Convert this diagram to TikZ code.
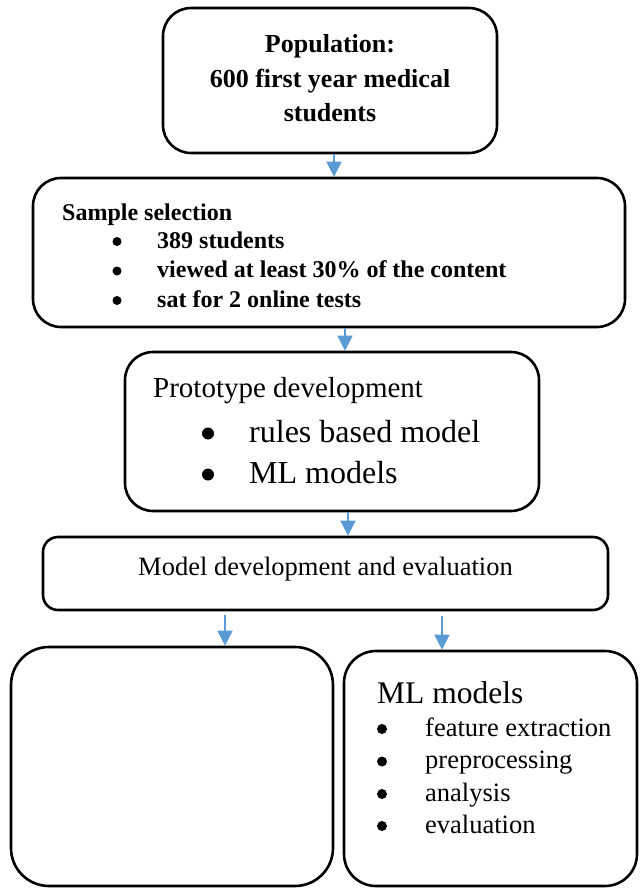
\documentclass[tikz,border=0pt]{standalone}
\usepackage{fontspec}
\setmainfont{Liberation Serif}
\usetikzlibrary{arrows.meta}
\definecolor{arrowblue}{HTML}{5B9BD5}

\begin{document}
\begin{tikzpicture}[x=1bp,y=-1bp,
  box/.style={draw, line width=2.6bp, inner sep=0pt, rounded corners=#1},
  box/.default=28bp,
  arr/.style={draw=arrowblue, line width=1.6bp, -{Triangle[width=15bp,length=15bp]}},
  txt/.style={anchor=base west, inner sep=0pt},
  ctr/.style={anchor=base, inner sep=0pt},
  dot/.style={circle, fill=black, inner sep=0pt, minimum size=#1},
  dot/.default=9bp]
\useasboundingbox (0,0) rectangle (640,888);

% boxes
\node[box, minimum width=334bp, minimum height=145bp] (pop) at (330,80.5) {};
\node[box, minimum width=592bp, minimum height=149bp] (samp) at (329,252.5) {};
\node[box, minimum width=414bp, minimum height=159bp] (proto) at (332,431.5) {};
\node[box=15bp, minimum width=565bp, minimum height=73bp] (model) at (325.5,573.5) {};
\node[box=38bp, minimum width=322bp, minimum height=239bp] (left) at (172,766.5) {};
\node[box=32bp, minimum width=293bp, minimum height=235bp] (right) at (490.5,768.5) {};

% population
\begin{scope}[font=\fontsize{26bp}{30bp}\selectfont\bfseries]
\node[ctr] (p1) at (330,52) {Population:};
\node[ctr] (p2) at (330,87) {600 first year medical};
\node[ctr] (p3) at (330,121) {students};
\end{scope}

% sample selection
\begin{scope}[font=\fontsize{24bp}{28bp}\selectfont\bfseries]
\node[txt] (s0) at (62,220) {Sample selection};
\node[dot] (sb1) at (117,241.5) {};
\node[txt] (s1) at (157,248) {389 students};
\node[dot] (sb2) at (117,271) {};
\node[txt] (s2) at (157,277.5) {viewed at least 30\% of the content};
\node[dot] (sb3) at (117,300.5) {};
\node[txt] (s3) at (157,307) {sat for 2 online tests};
\end{scope}

% prototype development
\node[txt, font=\fontsize{29bp}{33bp}\selectfont] (t0) at (153,397) {Prototype development};
\begin{scope}[font=\fontsize{32bp}{36bp}\selectfont]
\node[dot=12bp] (tb1) at (208,433.5) {};
\node[txt] (t1) at (249,442) {rules based model};
\node[dot=12bp] (tb2) at (208,474.5) {};
\node[txt] (t2) at (249,483) {ML models};
\end{scope}

% model development
\node[ctr, font=\fontsize{26.5bp}{30bp}\selectfont] (m0) at (325.5,575) {Model development and evaluation};

% ML models
\node[txt, font=\fontsize{31.5bp}{35bp}\selectfont] (r0) at (377,703) {ML models};
\begin{scope}[font=\fontsize{26.5bp}{30bp}\selectfont]
\node[dot=10bp] (rb1) at (382,729) {};
\node[txt] (r1) at (425,736) {feature extraction};
\node[dot=10bp] (rb2) at (382,761.5) {};
\node[txt] (r2) at (425,768.5) {preprocessing};
\node[dot=10bp] (rb3) at (382,794) {};
\node[txt] (r3) at (425,801) {analysis};
\node[dot=10bp] (rb4) at (382,826) {};
\node[txt] (r4) at (425,833) {evaluation};
\end{scope}

% connectors
\coordinate (a1) at (334,0);
\coordinate (a2) at (345,0);
\coordinate (a3) at (348,0);
\coordinate (a4) at (225,0);
\coordinate (a5) at (442,0);
\draw[arr] (pop.south -| a1) -- (samp.north -| a1);
\draw[arr] (samp.south -| a2) -- (proto.north -| a2);
\draw[arr] (proto.south -| a3) -- (model.north -| a3);
\draw[arr] ([yshift=-4bp]model.south -| a4) -- (left.north -| a4);
\draw[arr] ([yshift=-5bp]model.south -| a5) -- (right.north -| a5);
\end{tikzpicture}
\end{document}
